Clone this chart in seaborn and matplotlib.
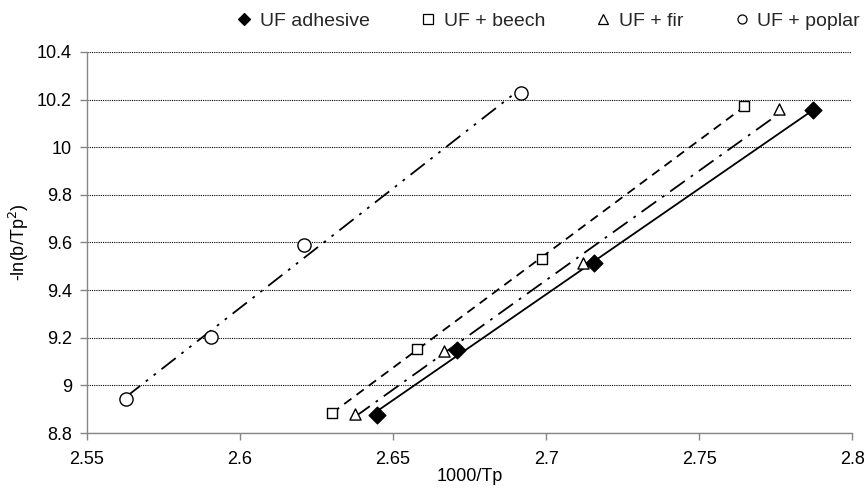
import numpy as np
import pandas as pd
import matplotlib
matplotlib.use("Agg")
import matplotlib.pyplot as plt
import seaborn as sns
from matplotlib.lines import Line2D

# Data
adh_x = [2.6448, 2.6709, 2.7157, 2.7873]
adh_y = [8.876, 9.148, 9.514, 10.156]
beech_x = [2.6300, 2.6578, 2.6987, 2.7647]
beech_y = [8.884, 9.153, 9.531, 10.173]
fir_x = [2.6376, 2.6667, 2.7121, 2.7761]
fir_y = [8.880, 9.144, 9.514, 10.160]
poplar_x = [2.5627, 2.5905, 2.6209, 2.6918]
poplar_y = [8.943, 9.203, 9.589, 10.228]
labels = ["UF adhesive", "UF + beech", "UF + fir", "UF + poplar"]
x_ticks = [2.55, 2.6, 2.65, 2.7, 2.75, 2.8]
y_ticks = [8.8, 9, 9.2, 9.4, 9.6, 9.8, 10, 10.2, 10.4]

sns.set_theme(style="white")
plt.rcParams['font.family'] = ['Liberation Sans', 'DejaVu Sans']

fig = plt.figure(figsize=(8.66, 4.9), dpi=100)
ax = fig.add_axes([0.1005, 0.1163, 0.8835, 0.7777])

series = [
    (adh_x, adh_y, "D", "black", "-", 8.5),
    (beech_x, beech_y, "s", "white", (0, (5, 3.5)), 7.5),
    (fir_x, fir_y, "^", "white", (0, (10, 4, 1.5, 4)), 8),
    (poplar_x, poplar_y, "o", "white", (0, (10, 4, 1.5, 4, 1.5, 4)), 9.5),
]

handles = []
for (xs, ys, mk, fc, ls, ms), lab in zip(series, labels):
    df = pd.DataFrame({"x": xs, "y": ys})
    sns.regplot(data=df, x="x", y="y", ax=ax, scatter=False, ci=None,
                truncate=True, color="black",
                line_kws=dict(linestyle=ls, linewidth=1.3, zorder=2))
    sns.scatterplot(data=df, x="x", y="y", ax=ax, marker=mk, s=ms ** 2,
                    facecolor=fc, edgecolor="black", linewidth=1.0, zorder=3)
    handles.append(Line2D([], [], linestyle="none", marker=mk,
                          markerfacecolor=fc, markeredgecolor="black",
                          markersize=6.5, markeredgewidth=0.9, label=lab))

ax.set_xlim(2.55, 2.8)
ax.set_ylim(8.8, 10.4)
ax.set_xticks(x_ticks)
ax.set_xticklabels(["2.55", "2.6", "2.65", "2.7", "2.75", "2.8"])
ax.set_yticks(y_ticks)
ax.set_yticklabels(["8.8", "9", "9.2", "9.4", "9.6", "9.8", "10", "10.2", "10.4"])

ax.yaxis.grid(True, color="black", linestyle=(0, (1, 1)), linewidth=0.8)
ax.xaxis.grid(False)
for s in ["top", "right"]:
    ax.spines[s].set_visible(False)
for s in ["left", "bottom"]:
    ax.spines[s].set_color("#868686")
    ax.spines[s].set_linewidth(1.0)
ax.tick_params(axis="both", which="major", direction="out", length=5,
               width=1.0, color="#868686", labelsize=13, labelcolor="black",
               bottom=True, left=True)
ax.tick_params(axis="y", pad=6)
ax.tick_params(axis="x", pad=8)

ax.set_xlabel("1000/Tp", fontsize=13, color="black", labelpad=0)
ax.set_ylabel("-ln(b/Tp$^2$)", fontsize=13, color="black", labelpad=4)

fig.legend(handles=handles, loc="center", bbox_to_anchor=(0.632, 0.957),
           ncol=4, frameon=False, fontsize=14, handletextpad=0.3,
           columnspacing=2.5, handlelength=1.0)

fig.savefig("out.png", dpi=100)
